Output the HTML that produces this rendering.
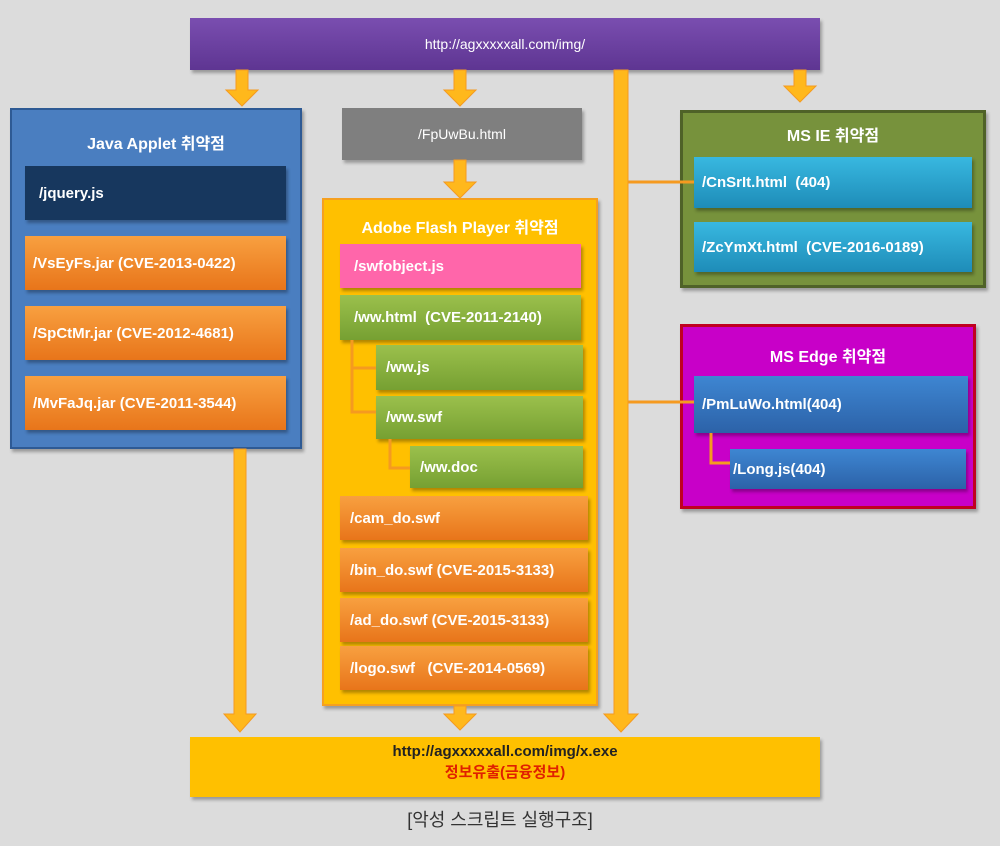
<!DOCTYPE html>
<html><head><meta charset="utf-8"><style>
body{margin:0;width:1000px;height:846px;background:#dcdcdc;position:relative;overflow:hidden;font-family:"Liberation Sans","Noto Sans CJK KR",sans-serif;}
.b{position:absolute;box-sizing:border-box;color:#fff;font-size:15px;font-weight:bold;display:flex;align-items:center;padding-left:14px;box-shadow:2px 3px 3px rgba(0,0,0,.3);}
.t{position:absolute;color:#fff;font-weight:bold;font-size:16px;text-align:center;}
.or{background:linear-gradient(#f8a040,#e8751a);}
.gr{background:linear-gradient(#9bc04c,#76a032);}
.bl{background:linear-gradient(#3e86d2,#2c62a8);}
.cy{background:linear-gradient(#38b8e0,#1e8cb8);}
svg{position:absolute;left:0;top:0}
</style></head><body>
<div class="b" style="left:190px;top:18px;width:630px;height:52px;background:linear-gradient(#7a4eb0,#5e3592);justify-content:center;padding:0;font-weight:normal;font-size:14px;">http://agxxxxxall.com/img/</div>

<div class="b" style="left:10px;top:108px;width:292px;height:341px;background:#4a7ec0;border:2px solid #2e5a94;display:block;padding:0"></div>
<div class="t" style="left:10px;top:130px;width:292px;">Java Applet 취약점</div>
<div class="b" style="left:25px;top:166px;width:261px;height:54px;background:#17375e;">/jquery.js</div>
<div class="b or" style="left:25px;top:236px;width:261px;height:54px;padding-left:8px">/VsEyFs.jar (CVE-2013-0422)</div>
<div class="b or" style="left:25px;top:306px;width:261px;height:54px;padding-left:8px">/SpCtMr.jar (CVE-2012-4681)</div>
<div class="b or" style="left:25px;top:376px;width:261px;height:54px;padding-left:8px">/MvFaJq.jar (CVE-2011-3544)</div>

<div class="b" style="left:342px;top:108px;width:240px;height:52px;background:#7f7f7f;justify-content:center;padding:0;font-weight:normal;font-size:14px">/FpUwBu.html</div>

<div class="b" style="left:322px;top:198px;width:276px;height:508px;background:#ffc000;border:2px solid #f5a020;display:block;padding:0"></div>
<div class="t" style="left:322px;top:214px;width:276px;">Adobe Flash Player 취약점</div>
<div class="b" style="left:340px;top:244px;width:241px;height:44px;background:#ff66aa;">/swfobject.js</div>
<div class="b gr" style="left:340px;top:295px;width:241px;height:45px;">/ww.html&nbsp; (CVE-2011-2140)</div>
<div class="b gr" style="left:376px;top:345px;width:207px;height:45px;padding-left:10px">/ww.js</div>
<div class="b gr" style="left:376px;top:396px;width:207px;height:43px;padding-left:10px">/ww.swf</div>
<div class="b gr" style="left:410px;top:446px;width:173px;height:42px;padding-left:10px">/ww.doc</div>
<div class="b or" style="left:340px;top:496px;width:248px;height:44px;padding-left:10px">/cam_do.swf</div>
<div class="b or" style="left:340px;top:548px;width:248px;height:44px;padding-left:10px">/bin_do.swf (CVE-2015-3133)</div>
<div class="b or" style="left:340px;top:598px;width:248px;height:44px;padding-left:10px">/ad_do.swf (CVE-2015-3133)</div>
<div class="b or" style="left:340px;top:646px;width:248px;height:44px;padding-left:10px">/logo.swf&nbsp;&nbsp; (CVE-2014-0569)</div>

<div class="b" style="left:680px;top:110px;width:306px;height:178px;background:#77923c;border:3px solid #4f6228;display:block;padding:0"></div>
<div class="t" style="left:680px;top:122px;width:306px;">MS IE 취약점</div>
<div class="b cy" style="left:694px;top:157px;width:278px;height:51px;padding-left:8px">/CnSrIt.html&nbsp; (404)</div>
<div class="b cy" style="left:694px;top:222px;width:278px;height:50px;padding-left:8px">/ZcYmXt.html&nbsp; (CVE-2016-0189)</div>

<div class="b" style="left:680px;top:324px;width:296px;height:185px;background:#c800c8;border:3px solid #c00020;display:block;padding:0"></div>
<div class="t" style="left:680px;top:343px;width:296px;">MS Edge 취약점</div>
<div class="b bl" style="left:694px;top:376px;width:274px;height:57px;padding-left:8px">/PmLuWo.html(404)</div>
<div class="b bl" style="left:730px;top:449px;width:236px;height:40px;padding-left:3px">/Long.js(404)</div>

<div class="b" style="left:190px;top:737px;width:630px;height:60px;background:#ffc000;display:block;padding:0;text-align:center;font-size:15px;">
<div style="color:#222;margin-top:6px">http://agxxxxxall.com/img/x.exe</div>
<div style="color:#e02000;margin-top:1px">정보유출(금융정보)</div></div>
<div style="position:absolute;left:0;width:1000px;top:806px;text-align:center;font-size:18px;color:#333;">[악성 스크립트 실행구조]</div>

<svg width="1000" height="846">
<g fill="#ffb81c" stroke="#f59a20" stroke-width="1">
<path d="M236 70h12v20h10l-16 16l-16-16h10z"/>
<path d="M454 70h12v20h10l-16 16l-16-16h10z"/>
<path d="M794 70h12v16h10l-16 16l-16-16h10z"/>
<path d="M454 160h12v22h10l-16 16l-16-16h10z"/>
<path d="M234 449h12v265h10l-16 18l-16-18h10z"/>
<path d="M454 706h12v8h10l-16 16l-16-16h10z"/>
<path d="M614 70h14v644h10l-17 18l-17-18h10z"/>
</g>
<g stroke="#f59a20" stroke-width="3" fill="none">
<path d="M628 182H694"/>
<path d="M628 402H694"/>
<path d="M352 340V412H376M352 368H376"/>
<path d="M390 439V468H410"/>
<path d="M711 433V463H730"/>
</g>
</svg>
</body></html>
